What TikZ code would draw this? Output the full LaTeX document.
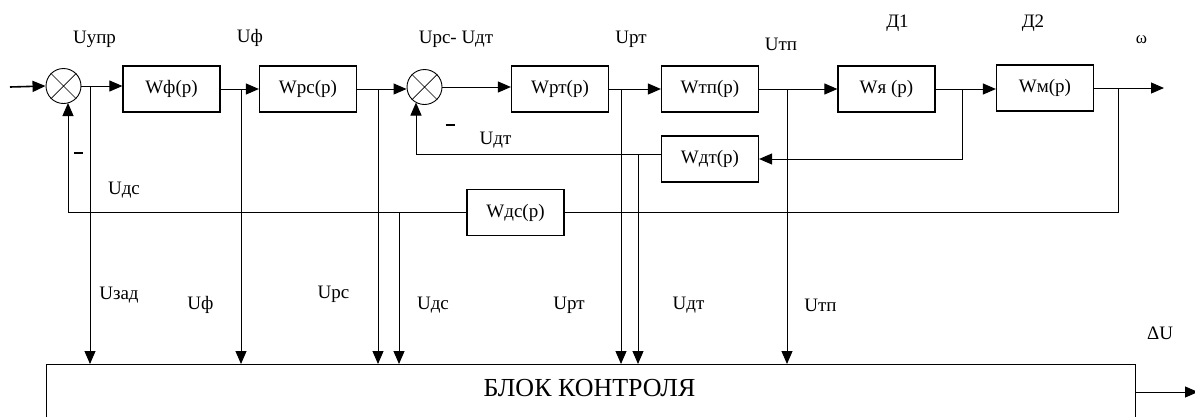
\documentclass[tikz,border=0pt]{standalone}
\usepackage{fontspec}
\setmainfont{Liberation Serif}
\usetikzlibrary{arrows.meta,calc}
\tikzset{
  tbox/.style={draw, line width=1.2pt, minimum width=97pt, minimum height=46pt, inner sep=0pt, font=\fontsize{19}{22}\selectfont},
  sumc/.style={draw, circle, line width=0.9pt, minimum size=35pt, inner sep=0pt},
  xline/.style={line width=0.7pt},
  sig/.style={line width=1pt},
  arr/.style={sig, -{Triangle[length=13pt,width=11pt]}},
  lbl/.style={font=\fontsize{19}{22}\selectfont, inner sep=0pt},
  minus/.style={inner sep=0pt}
}
\begin{document}
\begin{tikzpicture}[x=1pt,y=-1pt]
\useasboundingbox (0,0) rectangle (1195,416);
\clip (0,0) rectangle (1195,416);

% summing junctions
\node[sumc] (c1) at (63.5,86) {};
\draw[xline] (c1.north west) -- (c1.south east) (c1.north east) -- (c1.south west);
\node[sumc] (c2) at (424.5,87) {};
\draw[xline] (c2.north west) -- (c2.south east) (c2.north east) -- (c2.south west);

% blocks
\node[tbox] (wf)  at (171.5,89) {Wф(p)};
\node[tbox] (wr)  at (308,89)   {Wрс(p)};
\node[tbox] (wrt) at (560,89)   {Wрт(p)};
\node[tbox] (wtp) at (710,89)   {Wтп(p)};
\node[tbox] (wya) at (886.5,89) {Wя (p)};
\node[tbox] (wm)  at (1045,88)  {Wм(p)};
\node[tbox] (wdt) at (710,159)  {Wдт(p)};
\node[tbox] (wdc) at (515.5,212.5) {Wдс(p)};

\node[draw, line width=1pt, minimum width=1089pt, minimum height=104pt, anchor=north, inner sep=0pt] (blk) at (590.5,364) {};
\node[lbl, font=\fontsize{26}{30}\selectfont] (blkt) at (589.5,388) {БЛОК КОНТРОЛЯ};

% coordinates
\coordinate (in)  at (10,87);
\coordinate (out) at (1164,88);
\coordinate (bz)  at (90,86);
\coordinate (bf)  at (241,89);
\coordinate (brc) at (378,89);
\coordinate (brt) at (621,89);
\coordinate (btp) at (787,89);
\coordinate (bya) at (962,89);
\coordinate (bw)  at (1118,88);
\coordinate (bdt) at (638,154);
\coordinate (bdc) at (399,212.5);
\coordinate (fb1) at (68,212.5);
\coordinate (fb1t) at (68,103);
\coordinate (fb2) at (416,154);
\coordinate (fb2t) at (416,102.5);
\coordinate (dU) at (1198,392);

% forward path
\draw[arr, line width=1.6pt] (in) -- (c1.west);
\draw[arr] (c1.east) -- (c1.east -| wf.west);
\draw[arr] (wf.east) -- (wr.west);
\draw[arr] (wr.east) -- (wr.east -| c2.west);
\draw[arr] (c2.east) -- (c2.east -| wrt.west);
\draw[arr] (wrt.east) -- (wtp.west);
\draw[arr] (wtp.east) -- (wya.west);
\draw[arr] (wya.east) -- (wya.east -| wm.west);
\draw[arr] (wm.east) -- (out);

% feedback loops
\draw[arr] (bya) |- (wdt.east);
\draw[arr] ([yshift=5pt]wdt.west) -- (fb2) -- (fb2t);
\draw[sig] (bw) |- (wdc.east);
\draw[arr] (wdc.west) -- (fb1) -- (fb1t);

% signals to control block
\draw[arr] (bz)  -- (bz  |- blk.north);
\draw[arr] (bf)  -- (bf  |- blk.north);
\draw[arr] (brc) -- (brc |- blk.north);
\draw[arr] (bdc) -- (bdc |- blk.north);
\draw[arr] (brt) -- (brt |- blk.north);
\draw[arr] (bdt) -- (bdt |- blk.north);
\draw[arr] (btp) -- (btp |- blk.north);
\draw[arr] (blk.east |- dU) -- (dU);

% labels
\node[lbl] (l1) at (94.5,39) {Uупр};
\node[lbl] (l2) at (250,38) {Uф};
\node[lbl] (l3) at (456,39) {Uрс- Uдт};
\node[lbl] (l4) at (631,39) {Uрт};
\node[lbl] (l5) at (781,44) {Uтп};
\node[lbl] (l6) at (897.5,23) {Д1};
\node[lbl] (l7) at (1033,23) {Д2};
\node[lbl, font=\fontsize{17}{19}\selectfont] (l8) at (1141.5,40) {ω};
\node[minus] (m1) at (78.5,153) {\rule{9pt}{2.6pt}};
\node[minus] (m2) at (450,125) {\rule{9pt}{2.6pt}};
\node[lbl] (l9) at (495.5,140) {Uдт};
\node[lbl] (l10) at (124,190) {Uдс};
\node[lbl] (l11) at (119,295) {Uзад};
\node[lbl] (l12) at (200.5,305) {Uф};
\node[lbl] (l13) at (333.5,294) {Uрс};
\node[lbl] (l14) at (433,305) {Uдс};
\node[lbl] (l15) at (569,305) {Uрт};
\node[lbl] (l16) at (688.5,305) {Uдт};
\node[lbl] (l17) at (820.5,305) {Uтп};
\node[lbl] (l18) at (1160,333) {ΔU};
\end{tikzpicture}
\end{document}
